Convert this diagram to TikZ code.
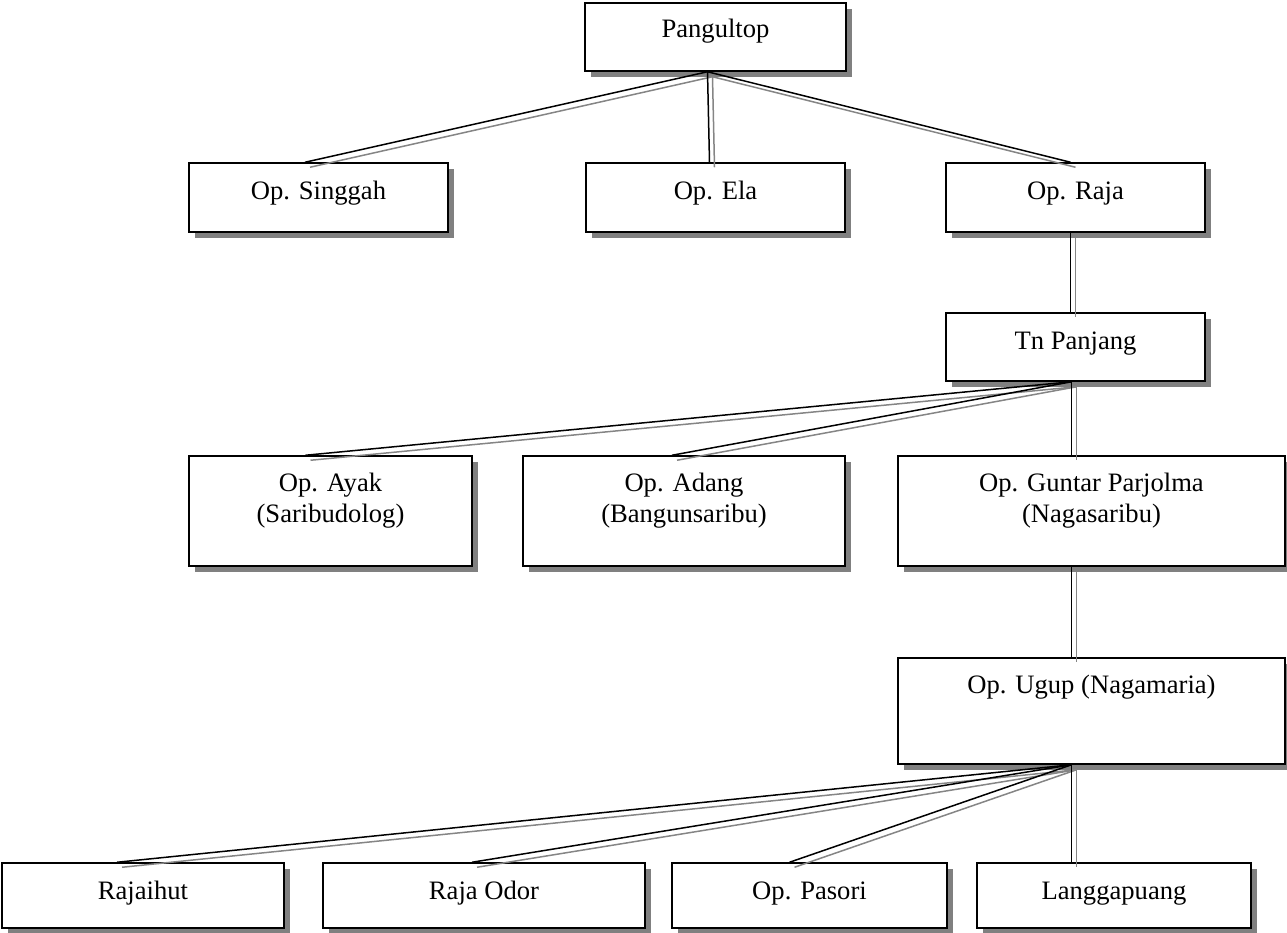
\documentclass[tikz,border=0pt]{standalone}
\usepackage{fontspec}
\setmainfont{Liberation Serif}
\usetikzlibrary{shadows}
\begin{document}
\begin{tikzpicture}[x=1pt,y=-1pt,
  box/.style={draw, line width=1.5pt, fill=white, inner sep=0pt,
    drop shadow={shadow xshift=6pt, shadow yshift=-6pt, fill=black!50, opacity=1}},
  lbl/.style={anchor=base, align=center, inner sep=0pt, font=\fontsize{26.6}{31}\selectfont},
  link/.style={line width=1.5pt, black},
  linkshade/.style={line width=1.5pt, black!48},
]
\useasboundingbox (0,0) rectangle (1287,932);

% boxes of the family tree
\node[box, minimum width=261pt, minimum height=68pt] (pang)   at (715.5,37)   {};
\node[box, minimum width=259pt, minimum height=69pt] (sing)   at (318.5,197.5){};
\node[box, minimum width=259pt, minimum height=69pt] (ela)    at (715.5,197.5){};
\node[box, minimum width=259pt, minimum height=69pt] (raja)   at (1075.5,197.5){};
\node[box, minimum width=259pt, minimum height=68pt] (tnp)    at (1075.5,347) {};
\node[box, minimum width=283pt, minimum height=110pt] (ayak)  at (330.5,511)  {};
\node[box, minimum width=322pt, minimum height=110pt] (adang) at (684,511)    {};
\node[box, minimum width=387pt, minimum height=110pt] (guntar) at (1091.5,511) {};
\node[box, minimum width=387pt, minimum height=106pt] (ugup)  at (1091.5,711) {};
\node[box, minimum width=282pt, minimum height=65pt] (rajaihut) at (143,895.5) {};
\node[box, minimum width=322pt, minimum height=65pt] (odor)   at (484,895.5)  {};
\node[box, minimum width=275pt, minimum height=65pt] (pasori) at (809.5,895.5){};
\node[box, minimum width=274pt, minimum height=65pt] (langga) at (1114,895.5)  {};

% labels, set from the top of each box (two-line labels sit on their last line)
\node[lbl] (tpang)   at ([yshift=-35pt]pang.north)   {Pangultop};
\node[lbl] (tsing)   at ([yshift=-37pt]sing.north)   {Op. Singgah};
\node[lbl] (tela)    at ([yshift=-37pt]ela.north)    {Op. Ela};
\node[lbl] (traja)   at ([yshift=-37pt]raja.north)   {Op. Raja};
\node[lbl] (ttnp)    at ([yshift=-37pt]tnp.north)    {Tn Panjang};
\node[lbl] (tayak)   at ([yshift=-67pt]ayak.north)   {Op. Ayak\\(Saribudolog)};
\node[lbl] (tadang)  at ([yshift=-67pt]adang.north)  {Op. Adang\\(Bangunsaribu)};
\node[lbl] (tguntar) at ([yshift=-67pt]guntar.north) {Op. Guntar Parjolma\\(Nagasaribu)};
\node[lbl] (tugup)   at ([yshift=-36pt]ugup.north)   {Op. Ugup (Nagamaria)};
\node[lbl] (trajaihut) at ([yshift=-37pt]rajaihut.north) {Rajaihut};
\node[lbl] (todor)   at ([yshift=-37pt]odor.north)   {Raja Odor};
\node[lbl] (tpasori) at ([yshift=-37pt]pasori.north) {Op. Pasori};
\node[lbl] (tlangga) at ([yshift=-37pt]langga.north) {Langgapuang};

% grey companion lines, offset down and right
\begin{scope}[linkshade]
\draw ([xshift=-3pt,yshift=-5pt]pang.south) -- ([xshift=-8.5pt,yshift=-5pt]sing.north);
\draw ([xshift=-3pt,yshift=-5pt]pang.south) -- ([xshift=-1pt,yshift=-5pt]ela.north);
\draw ([xshift=-3pt,yshift=-5pt]pang.south) -- ([xshift=0pt,yshift=-5pt]raja.north);
\draw ([xshift=0pt,yshift=-5pt]raja.south) -- ([xshift=0pt,yshift=-5pt]tnp.north);
\draw ([xshift=1pt,yshift=-5pt]tnp.south) -- ([xshift=-20pt,yshift=-5pt]ayak.north);
\draw ([xshift=1pt,yshift=-5pt]tnp.south) -- ([xshift=-7pt,yshift=-5pt]adang.north);
\draw ([xshift=1pt,yshift=-5pt]tnp.south) -- ([xshift=1pt,yshift=-5pt]tnp.south |- guntar.north);
\draw ([xshift=1pt,yshift=-5pt]tnp.south |- guntar.south) -- ([xshift=1pt,yshift=-5pt]tnp.south |- ugup.north);
\draw ([xshift=1pt,yshift=-5pt]tnp.south |- ugup.south) -- ([xshift=-21pt,yshift=-5pt]rajaihut.north);
\draw ([xshift=1pt,yshift=-5pt]tnp.south |- ugup.south) -- ([xshift=-7pt,yshift=-5pt]odor.north);
\draw ([xshift=1pt,yshift=-5pt]tnp.south |- ugup.south) -- ([xshift=-15pt,yshift=-5pt]pasori.north);
\draw ([xshift=1pt,yshift=-5pt]tnp.south |- ugup.south) -- ([xshift=1pt,yshift=-5pt]tnp.south |- langga.north);
\end{scope}

% black connecting lines
\begin{scope}[link]
\draw ([xshift=-8pt]pang.south) -- ([xshift=-13.5pt]sing.north);
\draw ([xshift=-8pt]pang.south) -- ([xshift=-6pt]ela.north);
\draw ([xshift=-8pt]pang.south) -- ([xshift=-5pt]raja.north);
\draw ([xshift=-5pt]raja.south) -- ([xshift=-5pt]tnp.north);
\draw ([xshift=-4pt]tnp.south) -- ([xshift=-25pt]ayak.north);
\draw ([xshift=-4pt]tnp.south) -- ([xshift=-12pt]adang.north);
\draw ([xshift=-4pt]tnp.south) -- ([xshift=-4pt]tnp.south |- guntar.north);
\draw ([xshift=-4pt]tnp.south |- guntar.south) -- ([xshift=-4pt]tnp.south |- ugup.north);
\draw ([xshift=-4pt]tnp.south |- ugup.south) -- ([xshift=-26pt]rajaihut.north);
\draw ([xshift=-4pt]tnp.south |- ugup.south) -- ([xshift=-12pt]odor.north);
\draw ([xshift=-4pt]tnp.south |- ugup.south) -- ([xshift=-20pt]pasori.north);
\draw ([xshift=-4pt]tnp.south |- ugup.south) -- ([xshift=-4pt]tnp.south |- langga.north);
\end{scope}
\end{tikzpicture}
\end{document}
